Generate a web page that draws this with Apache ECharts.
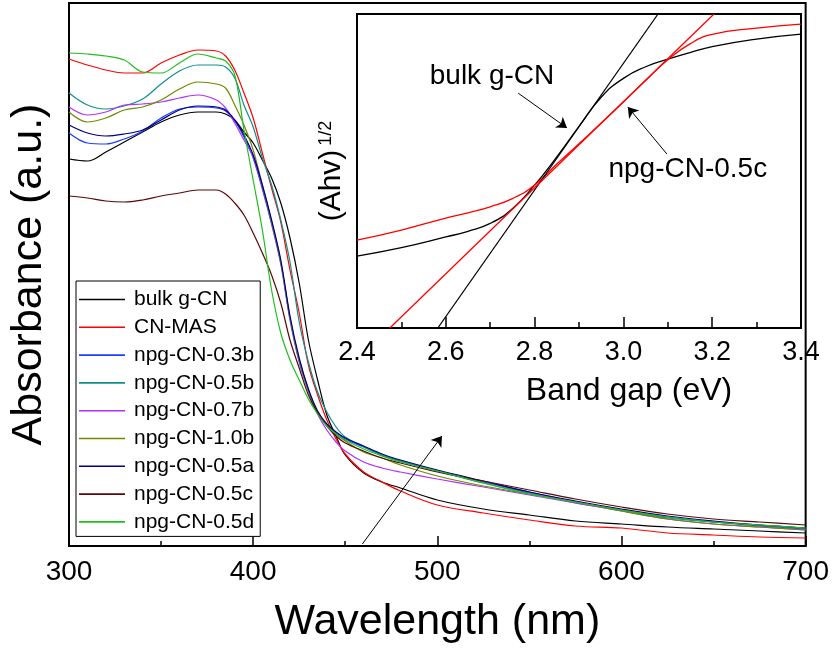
<!DOCTYPE html>
<html>
<head>
<meta charset="utf-8">
<title>UV-vis absorbance and band gap</title>
<script src="https://cdn.jsdelivr.net/npm/echarts@6/dist/echarts.min.js"></script>
<style>
html,body{margin:0;padding:0;background:#fff;}
#chartmain{width:832px;height:656px;}
</style>
</head>
<body>
<div id="chartmain"></div>
<script>
var FONT = 'Arial, "Liberation Sans", sans-serif';

// 主图：波长 (nm)
var wavelength = [300,310,320,330,340,350,360,370,380,385,390,395,400,405,410,415,420,425,430,435,440,445,450,460,470,480,500,525,550,575,600,625,650,675,700];
// 吸光度 (a.u.)
var bulkCN  = [387,385,394,404,414,424,431,434,434,432,426,414,403,386,368,343,308,263,206,166,131,110,91,73,64,58,46,37,31,25,22,19,17,15,13];
var cnMAS   = [487,481,476,473,473,483,491,496,495,490,476,453,428,393,358,324,276,233,181,151,126,107,92,74,64,55,41,33,26,20,18,13,11,9,8];
var npg03b  = [413,403,402,407,415,428,437,439,438,435,425,409,388,357,322,282,226,184,155,133,121,113,107,99,91,85,75,64,54,44,36,29,24,20,17];
var npg05b  = [453,441,437,440,447,462,475,481,481,479,468,441,419,388,361,326,284,224,184,154,134,119,109,99,91,85,75,63,53,43,36,28,24,21,18];
var npg07b  = [439,431,434,441,442,444,448,451,446,438,423,406,389,359,324,284,228,186,156,132,116,104,95,84,78,74,67,59,51,43,35,27,22,19,16];
var npg10b  = [434,424,428,436,439,446,457,464,462,458,441,421,396,361,324,284,228,186,156,134,121,112,105,94,88,81,70,60,52,44,35,27,22,19,16];
var npg05a  = [421,413,410,412,416,426,436,440,439,436,426,411,391,361,326,286,230,188,157,135,122,114,108,100,92,86,76,65,54,45,37,30,25,21,18];
var npg05c  = [350,348,345,344,346,350,353,356,356,352,343,331,313,293,271,243,206,178,151,133,120,110,103,95,88,83,74,65,56,47,39,32,27,24,21];
var npg05d  = [493,492,490,486,474,473,483,492,488,485,471,416,366,316,256,213,186,166,147,132,120,112,106,97,90,84,75,63,52,44,36,29,24,21,18];

var seriesNames  = ['bulk g-CN','CN-MAS','npg-CN-0.3b','npg-CN-0.5b','npg-CN-0.7b','npg-CN-1.0b','npg-CN-0.5a','npg-CN-0.5c','npg-CN-0.5d'];
var seriesValues = [bulkCN, cnMAS, npg03b, npg05b, npg07b, npg10b, npg05a, npg05c, npg05d];
var seriesColors = ['#000000','#ff0000','#1f3dff','#0f8f8f','#b030ff','#6f8a00','#000080','#5a0808','#1fbf1f'];

// 插图：带隙 (eV) 与 (Ahv)^1/2
var bandGap     = [2.4,2.5,2.6,2.65,2.7,2.75,2.8,2.85,2.9,2.95,3.0,3.05,3.1,3.15,3.2,3.3,3.4];
var insetBulk   = [0.229,0.256,0.29,0.308,0.333,0.380,0.455,0.545,0.642,0.735,0.795,0.832,0.856,0.877,0.896,0.92,0.936];
var insetNpg05c = [0.28,0.312,0.35,0.367,0.386,0.412,0.455,0.522,0.587,0.653,0.72,0.788,0.854,0.905,0.935,0.955,0.968];
// 切线端点
var tangentBulk = [[2.582,0],[3.078,1]];
var tangentNpg  = [[2.474,0],[3.204,1]];

// 注释
var mainArrow  = [[459.3,2],[502.5,110]];
var bulkArrow  = [[2.763,0.748],[2.873,0.637]];
var npgArrow   = [[3.098,0.554],[3.010,0.704]];
var bulkLabelPos = [2.704,0.803];
var npgLabelPos  = [3.145,0.506];

function zip(xs, ys){
	var out = [];
	for(var i=0;i<xs.length;i++){
		out.push([xs[i], ys[i]]);
	}
	return out;
}

var arrowLine = {lineStyle:{color:'#000',width:1,type:'solid'}};

var series = [];
for(var i=0;i<seriesNames.length;i++){
	var s = {
		name:seriesNames[i],
		type:'line',
		xAxisIndex:0,
		yAxisIndex:0,
		data:zip(wavelength, seriesValues[i]),
		smooth:0.35,
		showSymbol:false,
		color:seriesColors[i],
		lineStyle:{width:1.2,color:seriesColors[i]},
		z:3
	};
	series.push(s);
}
// 主图箭头
series[0].markLine = {
	silent:true,
	symbol:['none','arrow'],
	symbolSize:10,
	label:{show:false},
	lineStyle:arrowLine.lineStyle,
	data:[[{coord:mainArrow[0]},{coord:mainArrow[1]}]]
};

series.push({
	name:'inset bulk', type:'line', xAxisIndex:1, yAxisIndex:1,
	data:zip(bandGap, insetBulk), smooth:true, showSymbol:false,
	lineStyle:{width:1.3,color:'#000'}, color:'#000', z:5,
	markLine:{
		silent:true, symbol:['none','arrow'], symbolSize:10,
		label:{show:false}, lineStyle:arrowLine.lineStyle,
		data:[
			[{coord:bulkArrow[0]},{coord:bulkArrow[1]}],
			[{coord:npgArrow[0]},{coord:npgArrow[1]}]
		]
	}
});
series.push({
	name:'inset npg', type:'line', xAxisIndex:1, yAxisIndex:1,
	data:zip(bandGap, insetNpg05c), smooth:true, showSymbol:false,
	lineStyle:{width:1.3,color:'#ff0000'}, color:'#ff0000', z:5
});
series.push({
	name:'tangent bulk', type:'line', xAxisIndex:1, yAxisIndex:1,
	data:tangentBulk, showSymbol:false,
	lineStyle:{width:1.3,color:'#000'}, color:'#000', z:5
});
series.push({
	name:'tangent npg', type:'line', xAxisIndex:1, yAxisIndex:1,
	data:tangentNpg, showSymbol:false,
	lineStyle:{width:1.3,color:'#ff0000'}, color:'#ff0000', z:5
});

var myChart = echarts.init(document.getElementById("chartmain"));
myChart.setOption({
	animation:false,
	textStyle:{fontFamily:FONT},
	legend:{
		data:seriesNames,
		orient:'vertical',
		left:76,
		top:281,
		icon:'rect',
		itemWidth:46,
		itemHeight:1.6,
		itemGap:6.8,
		padding:[8,6,4,3],
		borderColor:'#000',
		borderWidth:1,
		backgroundColor:'#fff',
		selectedMode:false,
		textStyle:{fontSize:21,color:'#000',lineHeight:20,padding:[0,0,0,4],fontFamily:FONT}
	},
	grid:[
		{left:67,right:25,top:3,bottom:110,show:true,borderColor:'#000',borderWidth:2,backgroundColor:'transparent'},
		{left:357,right:31,top:14,bottom:328,show:true,borderColor:'#000',borderWidth:2,backgroundColor:'#fff'}
	],
	xAxis:[
		{
			gridIndex:0, type:'value', min:300, max:700, interval:100,
			name:'Wavelength (nm)', nameLocation:'middle', nameGap:55,
			nameTextStyle:{fontSize:43,color:'#000',fontFamily:FONT},
			axisLine:{lineStyle:{color:'#000',width:2}},
			axisTick:{inside:true,length:10,lineStyle:{color:'#000',width:1.5}},
			minorTick:{show:true,splitNumber:2,length:5,lineStyle:{color:'#000',width:1.5}},
			axisLabel:{fontSize:28,color:'#000',margin:12,fontFamily:FONT},
			splitLine:{show:false}
		},
		{
			gridIndex:1, type:'value', min:2.4, max:3.4, interval:0.2,
			name:'Band gap (eV)', nameLocation:'middle', nameGap:47,
			nameTextStyle:{fontSize:32,color:'#000',padding:[0,0,0,100],fontFamily:FONT},
			axisLine:{lineStyle:{color:'#000',width:2}},
			axisTick:{inside:true,length:11,lineStyle:{color:'#000',width:1.5}},
			minorTick:{show:true,splitNumber:2,length:6,lineStyle:{color:'#000',width:1.5}},
			axisLabel:{fontSize:27,color:'#000',margin:11,fontFamily:FONT,formatter:function(v){return v.toFixed(1);}},
			splitLine:{show:false}
		}
	],
	yAxis:[
		{
			gridIndex:0, type:'value', min:0, max:543,
			name:'Absorbance (a.u.)', nameLocation:'middle', nameGap:18,
			nameTextStyle:{fontSize:43,color:'#000',fontFamily:FONT},
			axisLine:{show:true,lineStyle:{color:'#000',width:2}},
			axisTick:{show:false}, axisLabel:{show:false}, splitLine:{show:false}
		},
		{
			gridIndex:1, type:'value', min:0, max:1,
			name:'{a|(Ahv)}{b|1/2}', nameLocation:'middle', nameGap:10,
			nameTextStyle:{rich:{
				a:{fontSize:30,color:'#000',fontFamily:FONT},
				b:{fontSize:18,color:'#000',fontFamily:FONT,verticalAlign:'top',padding:[0,0,0,4]}
			}},
			axisLine:{show:true,lineStyle:{color:'#000',width:2}},
			axisTick:{show:false}, axisLabel:{show:false}, splitLine:{show:false}
		}
	],
	series:series
});

// 插图文字注释
var p1 = myChart.convertToPixel({gridIndex:1}, bulkLabelPos);
var p2 = myChart.convertToPixel({gridIndex:1}, npgLabelPos);
myChart.setOption({
	graphic:[
		{type:'text', x:p1[0], y:p1[1], z:100,
		 style:{text:'bulk g-CN', fontSize:28, fontFamily:FONT, fill:'#000', align:'center', verticalAlign:'middle'}},
		{type:'text', x:p2[0], y:p2[1], z:100,
		 style:{text:'npg-CN-0.5c', fontSize:28, fontFamily:FONT, fill:'#000', align:'center', verticalAlign:'middle'}}
	]
});
</script>
</body>
</html>
